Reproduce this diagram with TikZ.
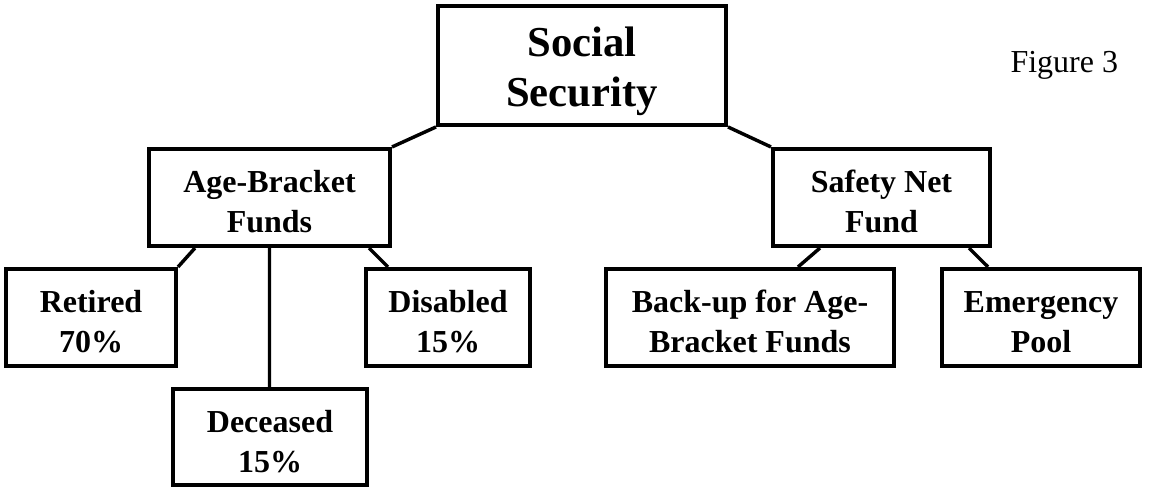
\documentclass[tikz,border=0pt]{standalone}
\usepackage{fontspec}
\setmainfont{Liberation Serif}
\usetikzlibrary{positioning, calc}
\newcommand{\lift}{\rule{0pt}{11.7pt}} % pushes the two lines a bit lower in the box
\newcommand{\liftbig}{\rule{0pt}{15.5pt}}
\tikzset{
	fund/.style={draw, line width=1.5pt, align=center, inner sep=0pt, font=\bfseries\fontsize{12}{15}\selectfont}, % every box of the tree
	top fund/.style={fund, font=\bfseries\fontsize{16}{18.8}\selectfont}, % the root box is set larger
	link/.style={line width=1.3pt}, % lines between the boxes
}

\begin{document}
\begin{tikzpicture}[x=0.375pt, y=-0.375pt]
			\useasboundingbox (0,0) rectangle (1159,487);

			\node[top fund, minimum width=108pt, minimum height=44.6pt] (ss) at (582,65.5) {\liftbig Social\\Security};
			\node[font=\fontsize{12}{14}\selectfont, anchor=west, inner sep=0pt] (fig) at (1010,65) {Figure 3};

			\node[fund, minimum width=90.4pt, minimum height=36.4pt] (ab) at (269.5,197.5) {\lift Age-Bracket\\Funds};
			\node[fund, minimum width=81.4pt, minimum height=36.4pt] (sn) at (881.5,197.5) {\lift Safety Net\\Fund};

			\node[fund, minimum width=63.75pt, minimum height=36.4pt] (ret) at (91,317.5) {\lift Retired\\70\%};
			\node[fund, minimum width=61.5pt, minimum height=36.4pt] (dis) at (448,317.5) {\lift Disabled\\15\%};
			\node[fund, minimum width=72.75pt, minimum height=36pt] (dec) at (270,437) {\lift Deceased\\15\%};
			\node[fund, minimum width=108pt, minimum height=36.4pt] (bak) at (750,317.5) {\lift Back-up for Age-\\Bracket Funds};
			\node[fund, minimum width=74.25pt, minimum height=36.4pt] (emg) at (1041,317.5) {\lift Emergency\\Pool};

			\draw[link] (ss.south west) -- (ab.north east)
				  (ss.south east) -- (sn.north west);
			\draw[link] ($(ab.south west)+(48,0)$) -- (ret.north east)
				  (ab.south) -- (ab.south |- dec.north)
				  ($(ab.south east)+(-23,0)$) -- ($(dis.north west)+(24,0)$);
			\draw[link] ($(sn.south west)+(49,0)$) -- ($(bak.north)+(48,0)$)
				  ($(sn.south east)+(-23,0)$) -- ($(emg.north west)+(48,0)$);
		\end{tikzpicture}
\end{document}
